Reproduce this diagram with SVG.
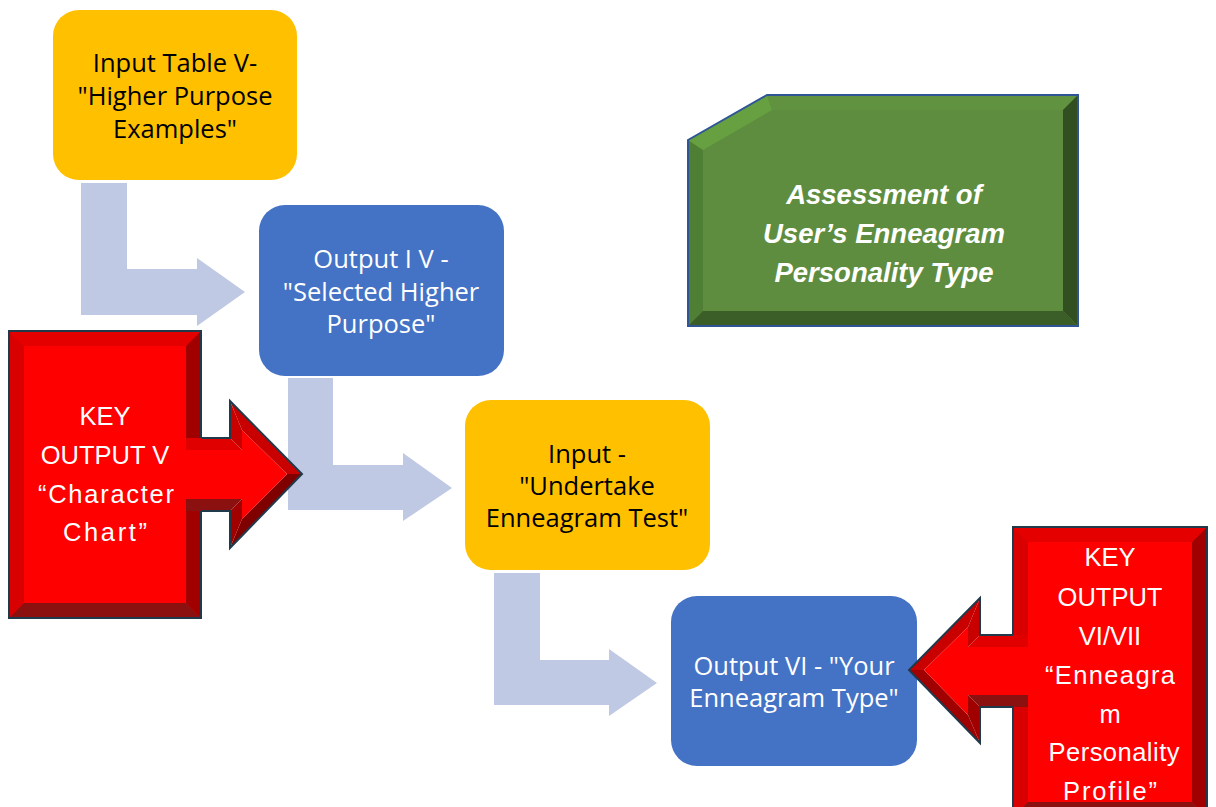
<svg xmlns="http://www.w3.org/2000/svg" width="1216" height="807" viewBox="0 0 1216 807">
<style>
.yel{fill:#FFC000}
.blu{fill:#4472C4}
.conn{fill:#BFC9E4}
.t{font-family:"Open Sans","Noto Sans",sans-serif;font-size:25.5px;text-anchor:middle;dominant-baseline:central}
.dark{fill:#000}
.wht{fill:#fff}
.rt{font-family:"Liberation Sans",Arial,sans-serif;font-size:25.5px;fill:#fff;text-anchor:middle;dominant-baseline:central}
.gt{font-family:"Liberation Sans",Arial,sans-serif;font-size:27.5px;font-weight:bold;font-style:italic;fill:#fff;text-anchor:middle;dominant-baseline:central}
.rface{fill:#FF0000}
.rl{fill:#D80000}
.rtp{fill:#E50000}
.rr{fill:#A00000}
.rb{fill:#8B1010}
.rout{fill:none;stroke:#203A4C;stroke-width:2;stroke-linejoin:miter}
</style>
<g id="connectors">
<path class="conn" d="M81,183 H127 V269 H197 V258 L245,292 L197,326 V315 H81 Z"/>
<path class="conn" d="M288,378 H333 V465 H403 V453 L452,488 L403,521 V510 H288 Z"/>
<path class="conn" d="M494,573 H540 V660 H609 V649 L657,683 L609,716 V705 H494 Z"/>
</g>
<g id="input-table-v">
<rect class="yel" x="53" y="10" width="244" height="170" rx="26"/>
<text class="t dark" x="175" y="62">Input Table V-</text>
<text class="t dark" x="175" y="95">"Higher Purpose</text>
<text class="t dark" x="175" y="128">Examples"</text>
</g>
<g id="output-iv">
<rect class="blu" x="259" y="205" width="245" height="171" rx="26"/>
<text class="t wht" x="381" y="258">Output I V -</text>
<text class="t wht" x="381" y="291">"Selected Higher</text>
<text class="t wht" x="381" y="323">Purpose"</text>
</g>
<g id="input-enneagram-test">
<rect class="yel" x="465" y="400" width="245" height="170" rx="26"/>
<text class="t dark" x="587" y="453">Input -</text>
<text class="t dark" x="587" y="485">"Undertake</text>
<text class="t dark" x="587" y="517">Enneagram Test"</text>
</g>
<g id="output-vi">
<rect class="blu" x="671" y="596" width="246" height="170" rx="26"/>
<text class="t wht" x="794" y="665">Output VI - "Your</text>
<text class="t wht" x="794" y="697">Enneagram Type"</text>
</g>
<g id="key-output-v">
<rect class="rface" x="9" y="331" width="192" height="287"/>
<polygon class="rl" points="9,331 24,346 24,603 9,618"/>
<polygon class="rtp" points="9,331 201,331 186,346 24,346"/>
<polygon class="rr" points="201,331 201,618 186,603 186,346"/>
<polygon class="rb" points="9,618 24,603 186,603 201,618"/>
<rect class="rout" x="9" y="331" width="192" height="287"/>
<polygon fill="#E00000" points="186,438 230,438 242,450 186,450"/>
<polygon fill="#C80000" points="230,438 230,401 242,430 242,450"/>
<polygon fill="#C80000" points="230,401 302,474 287,474 242,430"/>
<polygon fill="#800000" points="302,474 230,548 242,519 287,474"/>
<polygon fill="#A00000" points="230,548 230,511 242,499 242,519"/>
<polygon class="rb" points="230,511 186,511 186,499 242,499"/>
<polygon class="rface" points="186,450 242,450 242,430 287,474 242,519 242,499 186,499"/>
<polyline class="rout" points="201,438 230,438 230,401 302,474 230,548 230,511 201,511"/>
<text class="rt" x="105" y="416">KEY</text>
<text class="rt" x="105" y="455">OUTPUT V</text>
<text class="rt" x="106" y="494" textLength="136" lengthAdjust="spacing">“Character</text>
<text class="rt" x="105" y="532" textLength="84" lengthAdjust="spacing">Chart”</text>
</g>
<g id="key-output-vi-vii">
<rect class="rface" x="1013" y="527" width="194" height="290"/>
<polygon class="rl" points="1013,527 1028,542 1028,802 1013,817"/>
<polygon class="rtp" points="1013,527 1207,527 1192,542 1028,542"/>
<polygon class="rr" points="1207,527 1207,817 1192,802 1192,542"/>
<polygon class="rb" points="1013,817 1028,802 1192,802 1207,817"/>
<rect class="rout" x="1013" y="527" width="194" height="290"/>
<polygon fill="#E00000" points="1028,635 980,635 968,647 1028,647"/>
<polygon fill="#C80000" points="980,635 980,598 968,627 968,647"/>
<polygon fill="#C80000" points="980,598 909,670 924,670 968,627"/>
<polygon fill="#A00000" points="909,670 980,743 968,715 924,670"/>
<polygon fill="#A00000" points="980,743 980,707 968,695 968,715"/>
<polygon class="rb" points="980,707 1028,707 1028,695 968,695"/>
<polygon class="rface" points="1028,647 968,647 968,627 924,670 968,715 968,695 1028,695"/>
<polyline class="rout" points="1013,635 980,635 980,598 909,670 980,743 980,707 1013,707"/>
<text class="rt" x="1110" y="557">KEY</text>
<text class="rt" x="1110" y="597">OUTPUT</text>
<text class="rt" x="1110" y="636">VI/VII</text>
<text class="rt" x="1110" y="675" textLength="130" lengthAdjust="spacing">“Enneagra</text>
<text class="rt" x="1110" y="714">m</text>
<text class="rt" x="1114" y="752" textLength="131" lengthAdjust="spacing">Personality</text>
<text class="rt" x="1110" y="791" textLength="94" lengthAdjust="spacing">Profile”</text>
</g>
<g id="assessment">
<polygon fill="#5E8D3F" points="688,140 767,95 1078,95 1078,326 688,326"/>
<polygon fill="#4F7F35" points="688,140 703,150 703,311 688,326"/>
<polygon fill="#66A040" points="688,140 767,95 772,110 703,150"/>
<polygon fill="#61923F" points="767,95 1078,95 1063,110 772,110"/>
<polygon fill="#324F21" points="1078,95 1078,326 1063,311 1063,110"/>
<polygon fill="#3B5D27" points="688,326 703,311 1063,311 1078,326"/>
<polygon fill="none" stroke="#2F5597" stroke-width="2" points="688,140 767,95 1078,95 1078,326 688,326"/>
<text class="gt" x="884" y="194">Assessment of</text>
<text class="gt" x="884" y="233">User’s Enneagram</text>
<text class="gt" x="884" y="272">Personality Type</text>
</g>
</svg>
